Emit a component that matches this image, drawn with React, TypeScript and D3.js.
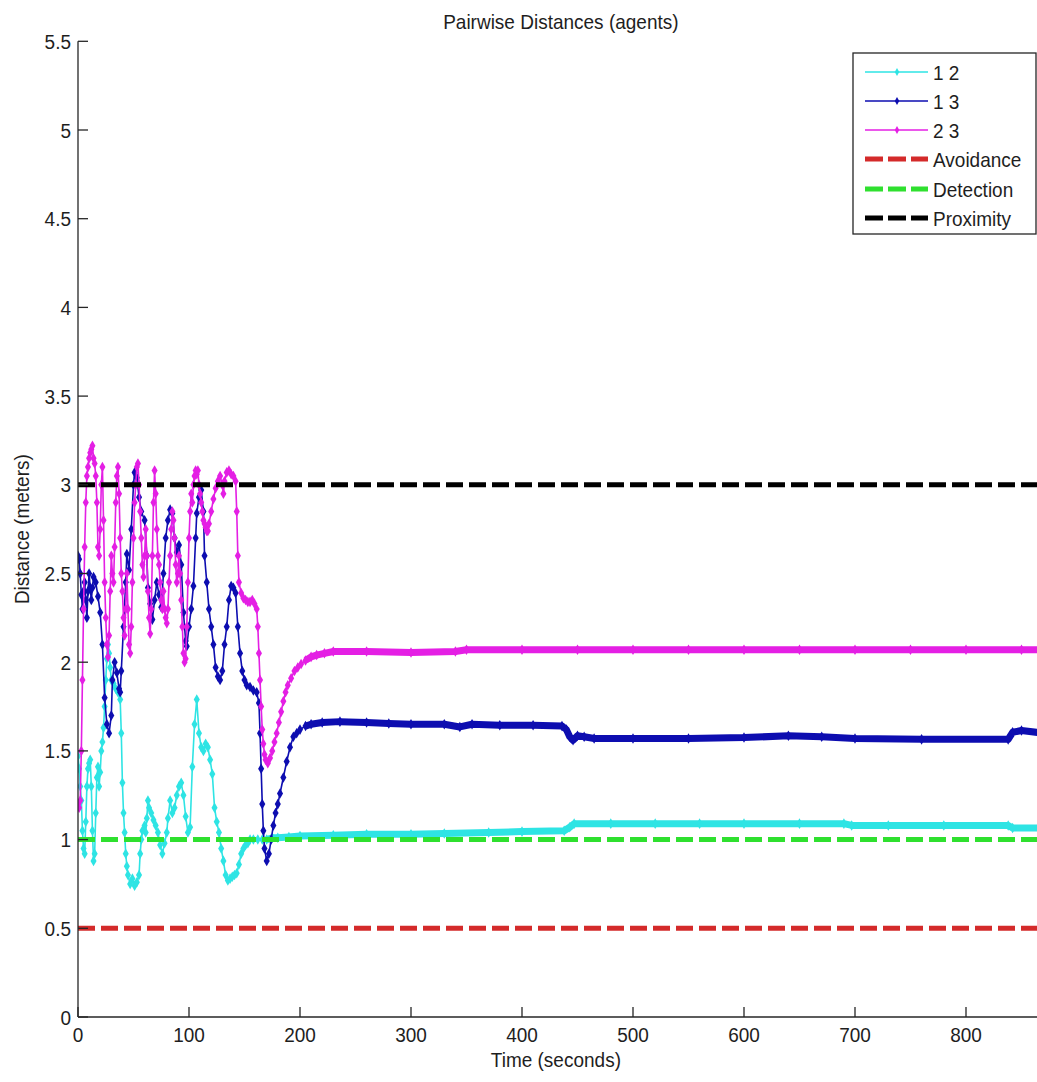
import React from "react";
import * as d3 from "d3";

// ---- data -------------------------------------------------------------
// Pairwise distances between agents, [time (s), distance (m)]
const pair12: [number, number][] = [
  [0, 1.47], [1, 1.4], [2, 1.3], [3, 1.22], [4, 1.05], [5, 0.95], [6, 0.92], [7, 1.1], [8, 1.3], [9, 1.4],
  [10, 1.43], [11, 1.45], [12, 1.3], [13, 1.05], [14, 0.88], [15, 0.92], [16, 1.15], [17, 1.35], [18, 1.41],
  [19, 1.3], [20, 1.38], [21, 1.5], [22, 1.55], [23, 1.63], [24, 1.75], [25, 1.9], [26, 2.02], [27, 2.1],
  [28, 2.05], [29, 1.97], [30, 1.9], [32, 1.88], [34, 1.85], [36, 1.83], [38, 1.79], [39, 1.6], [40, 1.32],
  [41, 1.15], [42, 1.04], [43, 0.92], [44, 0.85], [45, 0.8], [47, 0.75], [49, 0.78], [51, 0.74], [53, 0.76],
  [55, 0.8], [56, 0.92], [57, 1.0], [58, 1.05], [60, 1.08], [61, 1.04], [62, 1.12], [63, 1.22], [64, 1.18],
  [66, 1.15], [68, 1.11], [70, 1.08], [72, 1.04], [74, 0.97], [76, 0.92], [78, 0.98], [80, 1.04], [81, 1.12],
  [83, 1.22], [85, 1.15], [87, 1.18], [89, 1.25], [91, 1.3], [93, 1.32], [95, 1.25], [97, 1.13], [99, 1.04],
  [101, 1.07], [103, 1.41], [105, 1.65], [107, 1.79], [109, 1.6], [111, 1.52], [113, 1.5], [115, 1.54],
  [117, 1.52], [119, 1.45], [121, 1.37], [123, 1.18], [125, 1.1], [127, 1.04], [129, 0.95], [131, 0.88],
  [133, 0.8], [135, 0.77], [137, 0.78], [139, 0.79], [141, 0.8], [143, 0.81], [145, 0.86], [147, 0.92],
  [149, 0.95], [151, 0.97], [153, 0.98], [155, 1.0], [158, 1.0], [162, 1.0], [166, 1.0], [170, 1.0],
  [175, 1.01], [180, 1.01], [190, 1.015], [200, 1.02], [230, 1.025], [260, 1.03], [300, 1.03], [330, 1.035],
  [370, 1.04], [400, 1.045], [438, 1.05], [443, 1.07], [447, 1.09], [480, 1.09], [520, 1.09], [560, 1.09],
  [600, 1.09], [650, 1.09], [690, 1.09], [697, 1.08], [730, 1.08], [780, 1.08], [838, 1.08], [842, 1.065],
  [870, 1.065],
];

const pair13: [number, number][] = [
  [0, 2.6], [1, 2.58], [2, 2.5], [3, 2.38], [4, 2.3], [5, 2.4], [6, 2.45], [7, 2.35], [8, 2.25], [9, 2.4],
  [10, 2.5], [11, 2.42], [12, 2.35], [13, 2.42], [14, 2.48], [16, 2.45], [18, 2.37], [20, 2.28], [22, 2.1],
  [24, 1.8], [26, 1.65], [28, 1.6], [30, 1.7], [31, 1.9], [33, 2.0], [35, 1.94], [37, 1.85], [38, 1.83],
  [39, 1.95], [41, 2.2], [43, 2.45], [44, 2.61], [46, 2.52], [48, 2.75], [50, 3.0], [51, 3.07], [53, 3.04],
  [55, 2.93], [57, 2.85], [60, 2.8], [62, 2.6], [63, 2.42], [65, 2.33], [67, 2.24], [69, 2.35], [71, 2.45],
  [73, 2.38], [75, 2.31], [77, 2.5], [79, 2.7], [81, 2.8], [83, 2.86], [85, 2.84], [87, 2.7], [89, 2.62],
  [91, 2.66], [93, 2.55], [95, 2.28], [97, 2.12], [98, 2.09], [100, 2.2], [102, 2.3], [104, 2.43],
  [106, 2.7], [107, 2.84], [109, 2.93], [111, 2.97], [113, 2.85], [114, 2.6], [116, 2.45], [118, 2.3],
  [120, 2.2], [122, 2.1], [124, 1.97], [126, 1.92], [128, 1.9], [130, 1.95], [132, 2.1], [134, 2.2],
  [136, 2.35], [138, 2.43], [140, 2.42], [142, 2.39], [144, 2.2], [146, 2.05], [148, 1.95], [150, 1.9],
  [152, 1.87], [155, 1.86], [158, 1.84], [161, 1.83], [163, 1.77], [164, 1.6], [165, 1.4], [166, 1.2],
  [167, 1.05], [168, 0.95], [170, 0.88], [172, 0.92], [174, 1.0], [176, 1.08], [178, 1.15], [180, 1.2],
  [182, 1.26], [185, 1.35], [188, 1.44], [191, 1.52], [194, 1.58], [197, 1.6], [200, 1.62], [205, 1.64],
  [210, 1.65], [220, 1.66], [236, 1.665], [260, 1.66], [280, 1.655], [300, 1.65], [330, 1.65], [344, 1.635],
  [355, 1.65], [380, 1.645], [410, 1.645], [436, 1.64], [440, 1.62], [443, 1.58], [446, 1.56], [450, 1.585],
  [456, 1.58], [465, 1.57], [500, 1.57], [550, 1.57], [600, 1.575], [640, 1.585], [670, 1.58], [700, 1.57],
  [760, 1.565], [838, 1.565], [842, 1.605], [850, 1.615], [870, 1.6],
];

const pair23: [number, number][] = [
  [0, 1.2], [1, 1.18], [2, 1.22], [3, 1.5], [4, 1.9], [5, 2.3], [6, 2.65], [7, 2.9], [8, 3.05], [9, 3.1],
  [10, 3.15], [11, 3.18], [12, 3.2], [13, 3.22], [14, 3.15], [15, 3.12], [16, 3.05], [17, 2.9], [18, 2.65],
  [19, 2.6], [20, 2.75], [21, 3.0], [22, 3.1], [23, 2.8], [24, 2.45], [25, 2.25], [26, 2.1], [27, 2.03],
  [28, 2.15], [29, 2.4], [30, 2.6], [31, 2.5], [32, 2.45], [33, 2.65], [34, 2.9], [35, 3.05], [36, 3.1],
  [37, 2.95], [38, 2.7], [39, 2.5], [40, 2.4], [41, 2.25], [42, 2.15], [43, 2.3], [44, 2.5], [45, 2.3],
  [46, 2.1], [47, 2.05], [48, 2.2], [49, 2.45], [50, 2.7], [51, 2.9], [52, 3.0], [53, 3.1], [54, 3.12],
  [55, 3.0], [56, 2.85], [57, 2.7], [58, 2.55], [59, 2.48], [60, 2.6], [61, 2.75], [62, 2.6], [63, 2.4],
  [64, 2.25], [65, 2.16], [66, 2.3], [67, 2.6], [68, 2.9], [69, 3.08], [70, 2.95], [71, 2.75], [72, 2.6],
  [73, 2.55], [74, 2.45], [75, 2.35], [76, 2.3], [77, 2.4], [78, 2.3], [79, 2.25], [80, 2.22], [81, 2.3],
  [82, 2.45], [83, 2.6], [84, 2.75], [85, 2.85], [86, 2.8], [87, 2.7], [88, 2.55], [89, 2.45], [90, 2.5],
  [91, 2.6], [92, 2.5], [93, 2.35], [94, 2.2], [95, 2.05], [96, 2.0], [97, 2.02], [98, 2.2], [99, 2.45],
  [100, 2.7], [101, 2.85], [102, 2.95], [103, 2.9], [104, 3.0], [105, 3.05], [106, 3.08], [107, 3.06],
  [108, 3.08], [109, 3.0], [110, 2.95], [111, 2.9], [112, 2.85], [113, 2.8], [114, 2.78], [115, 2.76],
  [116, 2.74], [117, 2.74], [118, 2.78], [120, 2.85], [122, 2.92], [124, 2.98], [126, 3.02], [128, 3.05],
  [130, 3.0], [131, 2.95], [132, 3.02], [134, 3.07], [136, 3.08], [138, 3.06], [140, 3.05], [142, 3.02],
  [143, 2.85], [144, 2.6], [145, 2.45], [147, 2.39], [149, 2.36], [151, 2.35], [153, 2.34], [155, 2.34],
  [157, 2.35], [159, 2.33], [161, 2.3], [162, 2.2], [163, 2.05], [164, 1.9], [165, 1.75], [166, 1.62],
  [167, 1.54], [168, 1.48], [169, 1.45], [171, 1.43], [173, 1.46], [175, 1.5], [177, 1.55], [179, 1.6],
  [181, 1.66], [183, 1.72], [185, 1.78], [187, 1.83], [189, 1.87], [192, 1.91], [195, 1.95], [198, 1.97],
  [201, 1.99], [205, 2.01], [210, 2.03], [215, 2.04], [222, 2.05], [230, 2.06], [260, 2.06], [300, 2.055],
  [340, 2.06], [350, 2.07], [400, 2.07], [450, 2.07], [500, 2.07], [550, 2.07], [600, 2.07], [650, 2.07],
  [700, 2.07], [750, 2.07], [800, 2.07], [850, 2.07], [870, 2.07],
];

const seriesNames = ["1 2", "1 3", "2 3"];
const seriesColors = ["#2ee4e4", "#0d0db0", "#e41fe4"];

const thresholdNames = ["Avoidance", "Detection", "Proximity"];
const thresholdValues = [0.5, 1, 3];
const thresholdColors = ["#d42a2a", "#2fe02f", "#000000"];

const xTicks = [0, 100, 200, 300, 400, 500, 600, 700, 800];
const yTicks = [0, 0.5, 1, 1.5, 2, 2.5, 3, 3.5, 4, 4.5, 5, 5.5];

// ---- layout -----------------------------------------------------------
const W = 1037;
const H = 1082;
const X_MAX = 870;
const PLOT_LEFT = 78;
const PLOT_RIGHT = 78 + 1.11 * X_MAX;
const PLOT_TOP = 41.3;
const PLOT_BOTTOM = 1017;
// after these times the samples sit so close together that they merge into a band
const DENSE_FROM = [168, 205, 205];
const FONT = "'Liberation Sans', Arial, Helvetica, sans-serif";

function Txt(props: {
  x: number;
  y: number;
  anchor?: "start" | "middle" | "end";
  rotate?: number;
  children: React.ReactNode;
}) {
  const { x, y, anchor = "start", rotate = 0, children } = props;
  return (
    <text
      transform={`translate(${x},${y}) rotate(${rotate}) scale(1,1.1)`}
      textAnchor={anchor}
      fontFamily={FONT}
      fontSize={19}
      fill="#1e1e1e"
    >
      {children}
    </text>
  );
}

export default function App() {
  const x = d3.scaleLinear().domain([0, X_MAX]).range([PLOT_LEFT, PLOT_RIGHT]);
  const y = d3.scaleLinear().domain([0, 5.5]).range([PLOT_BOTTOM, PLOT_TOP]);
  const line = d3
    .line<[number, number]>()
    .x((d) => x(d[0]))
    .y((d) => y(d[1]));
  const diamond = d3.symbol(d3.symbolDiamond, 32)() as string;
  const legendDiamond = d3.symbol(d3.symbolDiamond, 18)() as string;

  const series = [pair12, pair13, pair23];
  const cx = (PLOT_LEFT + PLOT_RIGHT) / 2;

  const legendRows = [72, 101, 130, 159, 189, 218];

  return (
    <svg
      width={W}
      height={H}
      viewBox={`0 0 ${W} ${H}`}
      style={{ position: "absolute", left: 0, top: 0, background: "#fff" }}
    >
      <rect x={0} y={0} width={W} height={H} fill="#fff" />
      <defs>
        <clipPath id="plot-area">
          <rect x={PLOT_LEFT} y={PLOT_TOP - 10} width={PLOT_RIGHT - PLOT_LEFT} height={PLOT_BOTTOM - PLOT_TOP + 10} />
        </clipPath>
      </defs>

      <g clipPath="url(#plot-area)">
        {series.map((data, i) => {
          const dense = data.filter((d) => d[0] >= DENSE_FROM[i]);
          return (
            <g key={seriesNames[i]}>
              <path d={line(data) ?? ""} fill="none" stroke={seriesColors[i]} strokeWidth={1.6} />
              <path
                d={line(dense) ?? ""}
                fill="none"
                stroke={seriesColors[i]}
                strokeWidth={7}
                strokeLinejoin="round"
              />
              {data.map((d, j) => (
                <path
                  key={j}
                  d={diamond}
                  transform={`translate(${x(d[0])},${y(d[1])})`}
                  fill={seriesColors[i]}
                />
              ))}
            </g>
          );
        })}
        {thresholdValues.map((v, i) => (
          <line
            key={thresholdNames[i]}
            x1={x(0)}
            x2={x(X_MAX)}
            y1={y(v)}
            y2={y(v)}
            stroke={thresholdColors[i]}
            strokeWidth={5}
            strokeDasharray="17 6"
          />
        ))}
      </g>

      {/* axes */}
      <line x1={PLOT_LEFT} x2={PLOT_LEFT} y1={PLOT_TOP} y2={PLOT_BOTTOM} stroke="#262626" strokeWidth={1.3} />
      <line x1={PLOT_LEFT} x2={PLOT_RIGHT} y1={PLOT_BOTTOM} y2={PLOT_BOTTOM} stroke="#262626" strokeWidth={1.3} />
      {yTicks.map((t) => (
        <g key={`y${t}`}>
          <line x1={PLOT_LEFT} x2={PLOT_LEFT + 10} y1={y(t)} y2={y(t)} stroke="#262626" strokeWidth={1.3} />
          <Txt x={PLOT_LEFT - 7} y={y(t) + 7.5} anchor="end">
            {String(t)}
          </Txt>
        </g>
      ))}
      {xTicks.map((t) => (
        <g key={`x${t}`}>
          <line x1={x(t)} x2={x(t)} y1={PLOT_BOTTOM} y2={PLOT_BOTTOM - 10} stroke="#262626" strokeWidth={1.3} />
          <Txt x={x(t)} y={PLOT_BOTTOM + 25} anchor="middle">
            {String(t)}
          </Txt>
        </g>
      ))}

      <Txt x={cx} y={29} anchor="middle">
        Pairwise Distances (agents)
      </Txt>
      <Txt x={cx - 5} y={1067} anchor="middle">
        Time (seconds)
      </Txt>
      <Txt x={29} y={(PLOT_TOP + PLOT_BOTTOM) / 2} anchor="middle" rotate={-90}>
        Distance (meters)
      </Txt>

      {/* legend */}
      <rect x={853} y={53} width={183} height={181} fill="#fff" stroke="#262626" strokeWidth={1.3} />
      {seriesNames.map((name, i) => (
        <g key={name}>
          <line x1={865} x2={928} y1={legendRows[i]} y2={legendRows[i]} stroke={seriesColors[i]} strokeWidth={1.3} />
          <path d={legendDiamond} transform={`translate(897,${legendRows[i]})`} fill={seriesColors[i]} />
          <Txt x={933} y={legendRows[i] + 7.5}>
            {name}
          </Txt>
        </g>
      ))}
      {thresholdNames.map((name, i) => (
        <g key={name}>
          <line
            x1={865}
            x2={928}
            y1={legendRows[i + 3]}
            y2={legendRows[i + 3]}
            stroke={thresholdColors[i]}
            strokeWidth={5}
            strokeDasharray="18 5"
          />
          <Txt x={933} y={legendRows[i + 3] + 7.5}>
            {name}
          </Txt>
        </g>
      ))}
    </svg>
  );
}
